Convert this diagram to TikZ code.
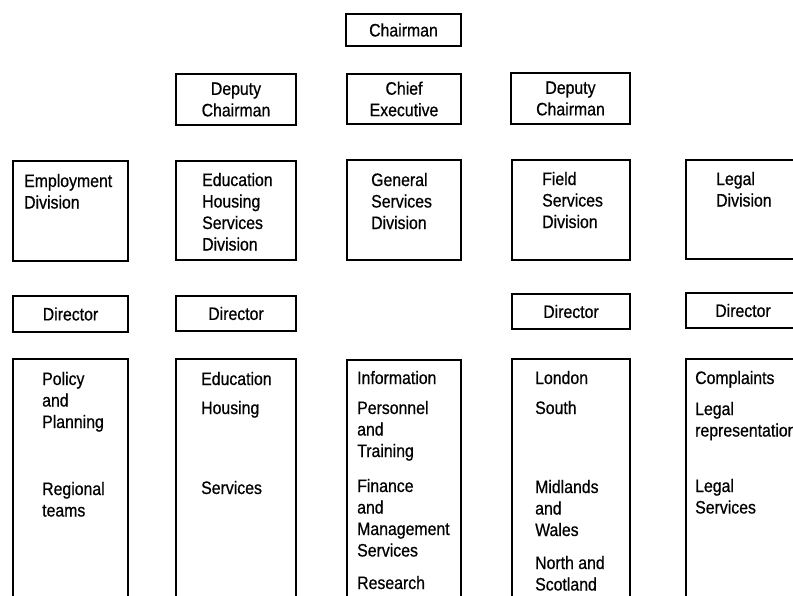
\documentclass[tikz,border=0pt]{standalone}
\usepackage{fontspec}
\setmainfont{Liberation Sans}[FakeStretch=0.88,FakeBold=0.6]
\usetikzlibrary{fit}
\newcommand{\lblfont}{\fontsize{18}{21.5}\selectfont}
\newcommand{\lines}[1]{\begin{tabular}[t]{@{}l@{}}#1\end{tabular}}
\renewcommand{\arraystretch}{1}
\tikzset{
  box/.style={draw=black, line width=2.6pt, inner sep=0pt, align=center, font=\lblfont},
  txt/.style={anchor=base west, inner sep=0pt, font=\lblfont},
  ctxt/.style={inner sep=0pt, align=center, font=\lblfont}
}
\begin{document}
\begin{tikzpicture}[x=1pt,y=-1pt]
\useasboundingbox (0,0) rectangle (793,595);
\clip (0,0) rectangle (793,595);
% top levels
\node[box, fit={(346,14) (461,46)}] (chair) {};
\node[ctxt] (chairt) at (chair.center) {Chairman};
\node[box, fit={(176,74) (296,125)}] (dep1) {};
\node[ctxt] (dep1t) at (dep1.center) {Deputy\\Chairman};
\node[box, fit={(347,74) (461,124)}] (ceo) {};
\node[ctxt] (ceot) at (ceo.center) {Chief\\Executive};
\node[box, fit={(511,73) (630,124)}] (dep2) {};
\node[ctxt] (dep2t) at (dep2.center) {Deputy\\Chairman};
% divisions
\node[box, fit={(13,161) (128,261)}] (empdiv) {};
\node[box, fit={(176,161) (296,260)}] (ehsdiv) {};
\node[box, fit={(347,160) (461,260)}] (gsdiv) {};
\node[box, fit={(512,160) (630,260)}] (fsdiv) {};
\node[box, fit={(686,160) (800,259)}] (legdiv) {};
\node[txt] (empdivt) at (24,187) {\lines{Employment\\Division}};
\node[txt] (ehsdivt) at (202,186) {\lines{Education\\Housing\\Services\\Division}};
\node[txt] (gsdivt) at (371,186) {\lines{General\\Services\\Division}};
\node[txt] (fsdivt) at (542,185) {\lines{Field\\Services\\Division}};
\node[txt] (legdivt) at (716,185) {\lines{Legal\\Division}};
% directors
\node[box, fit={(13,296) (128,332)}] (dir1) {};
\node[ctxt] (dir1t) at (dir1.center) {Director};
\node[box, fit={(176,296) (296,331)}] (dir2) {};
\node[ctxt] (dir2t) at (dir2.center) {Director};
\node[box, fit={(512,294) (630,329)}] (dir4) {};
\node[ctxt] (dir4t) at (dir4.center) {Director};
\node[box, fit={(686,293) (800,328)}] (dir5) {};
\node[ctxt] (dir5t) at (dir5.center) {Director};
% bottom columns
\node[box, fit={(13,359) (128,640)}] (col1) {};
\node[box, fit={(176,359) (296,640)}] (col2) {};
\node[box, fit={(347,360) (461,640)}] (col3) {};
\node[box, fit={(512,359) (630,640)}] (col4) {};
\node[box, fit={(686,359) (800,640)}] (col5) {};
% column 1
\node[txt] (c1a) at (42,385) {\lines{Policy\\and\\Planning}};
\node[txt] (c1b) at (42,495) {\lines{Regional\\teams}};
% column 2
\node[txt] (c2a) at (201,385) {Education};
\node[txt] (c2b) at (201,414) {Housing};
\node[txt] (c2c) at (201,494) {Services};
% column 3
\node[txt] (c3a) at (357,384) {Information};
\node[txt] (c3b) at (357,414) {\lines{Personnel\\and\\Training}};
\node[txt] (c3c) at (357,492) {\lines{Finance\\and\\Management\\Services}};
\node[txt] (c3d) at (357,589) {Research};
% column 4
\node[txt] (c4a) at (535,384) {London};
\node[txt] (c4b) at (535,414) {South};
\node[txt] (c4c) at (535,493) {\lines{Midlands\\and\\Wales}};
\node[txt] (c4d) at (535,569) {\lines{North and\\Scotland}};
% column 5
\node[txt] (c5a) at (695,384) {Complaints};
\node[txt] (c5b) at (695,415) {\lines{Legal\\representation}};
\node[txt] (c5c) at (695,492) {\lines{Legal\\Services}};
\end{tikzpicture}
\end{document}
